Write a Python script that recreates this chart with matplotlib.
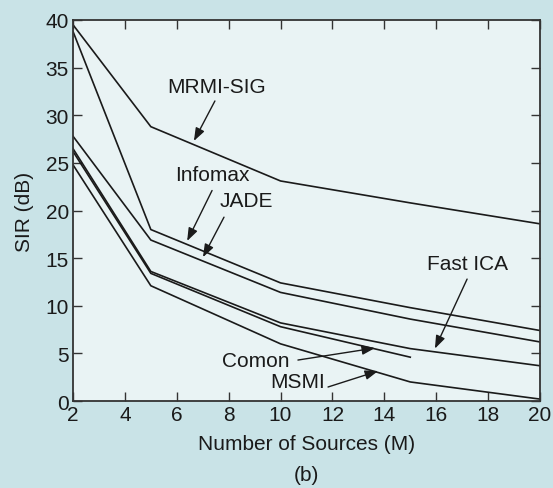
import numpy as np
import matplotlib.pyplot as plt

plt.rcParams['font.family'] = ['Liberation Sans', 'DejaVu Sans']

# number of sources
m = [2, 5, 10, 15, 20]
m_comon = [2, 5, 10, 15]

sir_mrmi = [39.5, 28.8, 23.1, 20.8, 18.6]
sir_infomax = [38.8, 18.0, 12.4, 9.8, 7.4]
sir_jade = [27.8, 16.9, 11.4, 8.6, 6.2]
sir_fastica = [26.5, 13.6, 8.2, 5.5, 3.7]
sir_comon = [26.2, 13.4, 7.8, 4.6]
sir_msmi = [24.8, 12.1, 6.0, 2.0, 0.2]

outer = '#c9e3e7'
inner = '#e9f3f4'
ink = '#1a1a1a'
fs = 15

fig = plt.figure(figsize=(5.53, 4.89), dpi=100, facecolor=outer)
ax = fig.add_axes([73 / 553, 1 - 402 / 489, 467 / 553, 381 / 489])
ax.set_facecolor(inner)

for y in [sir_mrmi, sir_infomax, sir_jade, sir_fastica, sir_msmi]:
    ax.plot(m, y, color=ink, lw=1.2)
ax.plot(m_comon, sir_comon, color=ink, lw=1.2)

ax.set_xlim(2, 20)
ax.set_ylim(0, 40)
ax.set_xticks(np.arange(2, 21, 2))
ax.set_yticks(np.arange(0, 41, 5))
ax.tick_params(direction='in', length=6.5, width=1.0, color='#333333',
               top=True, right=True, labelsize=fs, pad=3, labelcolor=ink)
for s in ax.spines.values():
    s.set_color('#333333')
    s.set_linewidth(1.3)

ax.set_xlabel('Number of Sources (M)', fontsize=fs, color=ink, labelpad=7)
ax.set_ylabel('SIR (dB)', fontsize=fs, color=ink, labelpad=8)
fig.text(306.5 / 553, 1 - 476 / 489, '(b)', ha='center', va='center',
         fontsize=fs, color=ink)

arrow = dict(arrowstyle='-|>,head_length=0.6,head_width=0.22', color=ink,
             lw=1.0, mutation_scale=13, shrinkA=0, shrinkB=0)

# (label, text x, text y, arrow tail, arrow head)
notes = [
    ('MRMI-SIG', 7.55, 33.0, (7.47, 31.5), (6.66, 27.3)),
    ('Infomax', 7.36, 23.8, (7.36, 22.1), (6.4, 16.8)),
    ('JADE', 8.67, 21.0, (7.82, 19.3), (7.01, 15.1)),
    ('Fast ICA', 17.19, 14.4, (17.19, 12.8), (15.95, 5.5)),
    ('Comon', 9.05, 4.3, (10.67, 4.3), (13.64, 5.56)),
    ('MSMI', 10.64, 2.0, (11.83, 1.47), (13.76, 3.15)),
]
for label, tx, ty, tail, head in notes:
    ax.text(tx, ty, label, ha='center', va='center', fontsize=fs, color=ink)
    ax.annotate('', xy=head, xytext=tail, arrowprops=arrow)

fig.savefig('out.png', dpi=100, facecolor=outer)
